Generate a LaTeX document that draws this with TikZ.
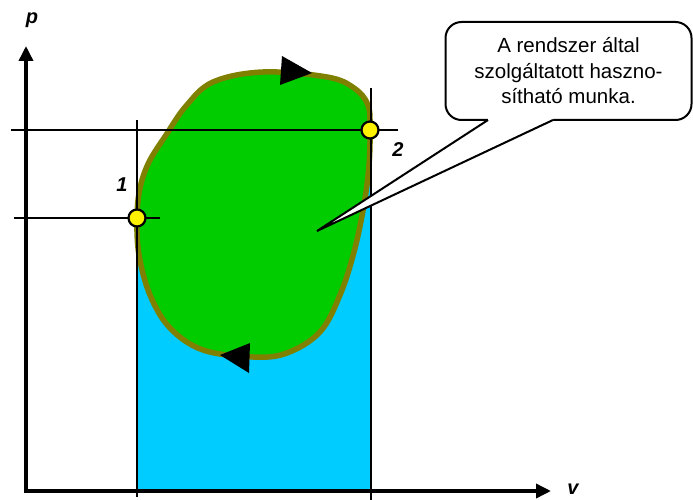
\documentclass[tikz,border=0pt]{standalone}
\usepackage{fontspec}
\setmainfont{Liberation Sans}
\usepackage{tikz}
\usetikzlibrary{arrows.meta}
\usepackage{xcolor}
\definecolor{workgreen}{RGB}{0,204,0}
\definecolor{rimolive}{RGB}{128,128,0}
\definecolor{areablue}{RGB}{0,204,255}

\begin{document}
\begin{tikzpicture}[x=1pt,y=-1pt,>={Triangle[length=15pt,width=14pt]},
  guide/.style={line width=2pt},
  state/.style={circle,draw,line width=2.2pt,fill=yellow,inner sep=0pt,minimum size=17pt},
  lbl/.style={font=\fontsize{20}{20}\selectfont\bfseries\itshape,anchor=base,inner sep=0pt}]
\useasboundingbox (0,0) rectangle (693,500);
\coordinate (o) at (26,491);
\coordinate (ytop) at (26,46);
\coordinate (xend) at (551,491);
\coordinate (s1) at (137,218);
\coordinate (s2) at (370,130);
\coordinate (v1top) at (137,120);
\coordinate (v1bot) at (137,497);
\coordinate (v2top) at (371,88);
\coordinate (v2bot) at (371,500);
\coordinate (h1a) at (14,218);
\coordinate (h1b) at (160,218);
\coordinate (h2a) at (11,130);
\coordinate (h2b) at (398,130);
\fill[areablue] (s1 |- o) -- (s1) -- (s2) -- (v2top |- o) -- cycle;
\filldraw[fill=workgreen,draw=rimolive,line width=5.5pt] plot[smooth cycle,tension=0.6] coordinates {
  (137,218) (140,188) (149,162) (166,135) (186,106) (213,82) (263,72) (327,77) (354,88)
  (368,105) (370,130) (369,165) (364,205) (354,252) (340,295) (320,332) (287,353)
  (253,357) (203,350) (170,328) (150,295) (139,255)};
\draw[guide] (v1top) -- (v1bot);
\draw[guide] (v2top) -- (v2bot);
\draw[guide] (h1a) -- (h1b);
\draw[guide] (h2a) -- (h2b);
\fill (282,56) -- (312,73) -- (280,85) -- cycle;
\fill (250,343) -- (220,355) -- (249,373) -- cycle;
\node[draw,fill=white,line width=2pt,outer sep=0pt,rounded corners=16pt,minimum width=246pt,
  minimum height=98pt,align=center,font=\fontsize{20.5}{25.5}\selectfont] (note) at (568.5,71)
  {A rendszer által\\szolgáltatott haszno-\\sítható munka.};
\coordinate (tip) at (317,231);
\coordinate (b1) at ([xshift=-80.5pt]note.south);
\coordinate (b2) at ([xshift=-15.5pt]note.south);
\fill[white] ([yshift=2.5pt]b1) -- (b1) -- (tip) -- (b2) -- ([yshift=2.5pt]b2) -- cycle;
\draw[line width=2pt,line join=miter] (b1) -- (tip) -- (b2);
\draw[<->,line width=3.5pt] (ytop) -- (o) -- (xend);
\node[state] (n1) at (s1) {};
\node[state] (n2) at (s2) {};
\node[lbl] (lp) at (32,24) {p};
\node[lbl] (lv) at (573,494) {v};
\node[lbl] (l1) at (122,191) {1};
\node[lbl] (l2) at (398,156) {2};
\end{tikzpicture}
\end{document}
